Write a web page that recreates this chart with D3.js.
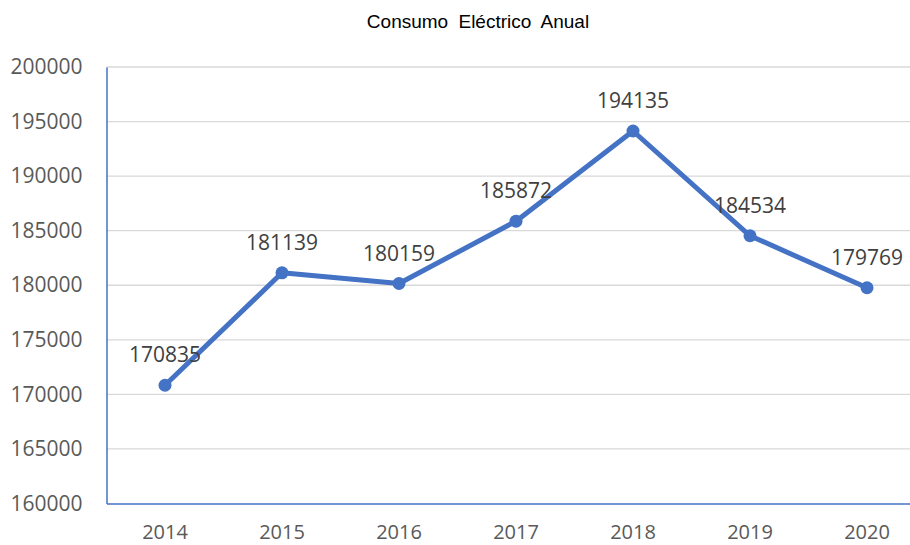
<!DOCTYPE html>
<html><head><meta charset="utf-8">
<script src="https://cdn.jsdelivr.net/npm/d3@7"></script>
<style>body{margin:0;background:#fff;}</style>
</head><body>
<svg id="c" width="910" height="545"></svg>
<script>
const years = ["2014","2015","2016","2017","2018","2019","2020"];
const values = [170835,181139,180159,185872,194135,184534,179769];
const yTicks = [160000,165000,170000,175000,180000,185000,190000,195000,200000];
const title = "Consumo Eléctrico Anual";

const svg = d3.select("#c");
const mLeft = 106.5, mRight = 925.5, mTop = 67, mBottom = 503.5;
const x = d3.scaleBand().domain(years).range([mLeft, mRight]);
const y = d3.scaleLinear().domain([160000,200000]).range([mBottom, mTop]);
const font = "'Open Sans', sans-serif";

svg.append("text").attr("x", 478).attr("y", 28).attr("text-anchor","middle")
  .attr("font-family","'Liberation Sans', Arial, sans-serif").attr("font-size",19)
  .attr("word-spacing","5px").attr("fill","#000").text(title);

// gridlines
svg.append("g").selectAll("line").data(yTicks.filter(d=>d>160000)).join("line")
  .attr("x1", mLeft).attr("x2", 910).attr("y1", d=>y(d)).attr("y2", d=>y(d))
  .attr("stroke","#d9d9d9").attr("stroke-width",1.3);

// y axis
const ya = svg.append("g").attr("transform",`translate(${mLeft},0)`)
  .call(d3.axisLeft(y).tickValues(yTicks).tickSize(0).tickPadding(24).tickFormat(d3.format("d")));
ya.select(".domain").attr("stroke","#4472C4").attr("stroke-width",1.5);
ya.selectAll("text").attr("font-family",font).attr("font-size",21).attr("fill","#595959");

// x axis
const xa = svg.append("g").attr("transform",`translate(0,${mBottom})`)
  .call(d3.axisBottom(x).tickSize(0).tickPadding(21));
xa.select(".domain").attr("stroke","#4472C4").attr("stroke-width",1.5);
xa.selectAll("text").attr("font-family",font).attr("font-size",20).attr("fill","#595959");

const cx = d => x(d) + x.bandwidth()/2;
const data = years.map((yr,i)=>({yr, v: values[i]}));

svg.append("path").datum(data)
  .attr("d", d3.line().x(d=>cx(d.yr)).y(d=>y(d.v)))
  .attr("fill","none").attr("stroke","#4472C4").attr("stroke-width",5)
  .attr("stroke-linejoin","round").attr("stroke-linecap","round");

svg.append("g").selectAll("circle").data(data).join("circle")
  .attr("cx", d=>cx(d.yr)).attr("cy", d=>y(d.v)).attr("r",6.5)
  .attr("fill","#4472C4");

svg.append("g").selectAll("text").data(data).join("text")
  .attr("x", d=>cx(d.yr)).attr("y", d=>y(d.v)-23).attr("text-anchor","middle")
  .attr("font-family",font).attr("font-size",21).attr("fill","#404040")
  .text(d=>d.v);
</script>
</body></html>
